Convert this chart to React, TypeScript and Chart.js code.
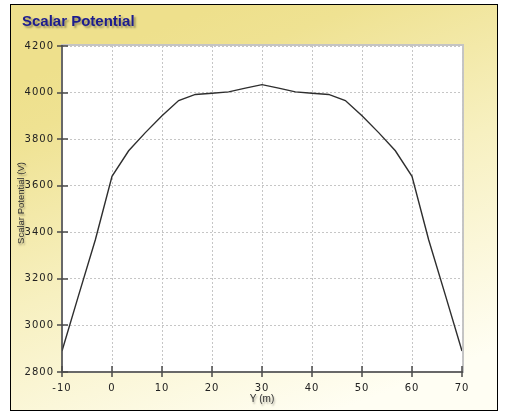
import React, { useEffect, useRef } from "react";
import { Chart, registerables } from "chart.js";

Chart.register(...registerables);

// Y (m) positions along the profile
const yPositions = [
  -10, -6.67, -3.33, 0, 3.33, 6.67, 10, 13.33, 16.67, 20, 23.33, 26.67, 30,
  33.33, 36.67, 40, 43.33, 46.67, 50, 53.33, 56.67, 60, 63.33, 66.67, 70,
];
// Scalar potential (V)
const scalarPotential = [
  2890, 3130, 3368, 3640, 3750, 3828, 3900, 3966, 3992, 3997, 4003, 4019, 4034,
  4019, 4003, 3997, 3992, 3966, 3900, 3828, 3750, 3640, 3368, 3130, 2890,
];
const xTickValues = [-10, 0, 10, 20, 30, 40, 50, 60, 70];
const yTickValues = [2800, 3000, 3200, 3400, 3600, 3800, 4000, 4200];

const chartTitle = "Scalar Potential";
const xAxisTitle = "Y (m)";
const yAxisTitle = "Scalar Potential (V)";

const framePlugin = {
  id: "frame",
  beforeDraw(chart: any) {
    const { ctx, chartArea: a, width, height } = chart;
    ctx.save();
    ctx.letterSpacing = "0px";
    ctx.fillStyle = "#ffffff";
    ctx.fillRect(0, 0, width, height);
    const g = ctx.createLinearGradient(180, 20, 330, 414);
    g.addColorStop(0, "#EEE08C");
    g.addColorStop(0.12, "#EFE292");
    g.addColorStop(0.5, "#F7F0C0");
    g.addColorStop(1, "#FFFEF3");
    ctx.fillStyle = g;
    ctx.fillRect(10, 4, 488, 407);
    ctx.strokeStyle = "#000000";
    ctx.lineWidth = 1;
    ctx.strokeRect(10.5, 4.5, 487, 406);
    // plot area
    ctx.fillStyle = "#ffffff";
    ctx.fillRect(a.left, a.top, a.right - a.left, a.bottom - a.top);
    ctx.strokeStyle = "#c4c4c4";
    ctx.lineWidth = 2;
    ctx.strokeRect(a.left, a.top - 1, a.right - a.left + 1, a.bottom - a.top + 1);
    // title
    ctx.font = 'bold 15px "Liberation Sans", Arial, sans-serif';
    ctx.shadowColor = "rgba(0,0,0,0.35)";
    ctx.shadowOffsetX = 2;
    ctx.shadowOffsetY = 2;
    ctx.shadowBlur = 2;
    ctx.fillStyle = "#1C1C8E";
    ctx.textAlign = "left";
    ctx.textBaseline = "alphabetic";
    ctx.fillText(chartTitle, 22, 26);
    ctx.restore();
    ctx.letterSpacing = "1px";
  },
  afterDraw(chart: any) {
    const { ctx, chartArea: a } = chart;
    const xs = chart.scales.x;
    const ys = chart.scales.y;
    ctx.save();
    ctx.letterSpacing = "0px";
    ctx.strokeStyle = "#4a4a4a";
    ctx.lineWidth = 1.5;
    ctx.beginPath();
    ctx.moveTo(a.left, a.top - 1);
    ctx.lineTo(a.left, a.bottom);
    ctx.lineTo(a.right + 1, a.bottom);
    ctx.stroke();
    ctx.lineWidth = 1.5;
    ctx.beginPath();
    for (const v of yTickValues) {
      const p = Math.round(ys.getPixelForValue(v));
      ctx.moveTo(a.left - 5, p);
      ctx.lineTo(a.left + 6, p);
    }
    for (const v of xTickValues) {
      const p = Math.round(xs.getPixelForValue(v));
      ctx.moveTo(p, a.bottom - 6);
      ctx.lineTo(p, a.bottom + 5);
    }
    ctx.stroke();
    // axis titles
    ctx.shadowColor = "rgba(0,0,0,0.35)";
    ctx.shadowOffsetX = 1;
    ctx.shadowOffsetY = 2;
    ctx.shadowBlur = 2;
    ctx.fillStyle = "#333333";
    ctx.textAlign = "center";
    ctx.textBaseline = "middle";
    ctx.font = '10px "Liberation Sans", Arial, sans-serif';
    ctx.fillText(xAxisTitle, (a.left + a.right) / 2, 399);
    ctx.translate(21, 203);
    ctx.rotate(-Math.PI / 2);
    ctx.font = '9.5px "Liberation Sans", Arial, sans-serif';
    ctx.fillText(yAxisTitle, 0, 0);
    ctx.restore();
  },
};

export default function App() {
  const ref = useRef<HTMLCanvasElement | null>(null);
  useEffect(() => {
    if (!ref.current) return;
    const chart = new Chart(ref.current, {
      type: "line",
      data: {
        datasets: [
          {
            data: yPositions.map((x, i) => ({ x, y: scalarPotential[i] })),
            borderColor: "#2e2e2e",
            borderWidth: 1.4,
            pointRadius: 0,
            tension: 0,
            fill: false,
          },
        ],
      },
      options: {
        animation: false,
        responsive: false,
        layout: { padding: { left: 0, top: 46, right: 44, bottom: 0 } },
        plugins: { legend: { display: false }, tooltip: { enabled: false }, title: { display: false } },
        scales: {
          x: {
            type: "linear",
            min: -10,
            max: 70,
            afterBuildTicks: (s: any) => {
              s.ticks = xTickValues.map((v) => ({ value: v }));
            },
            afterFit: (s: any) => {
              s.height = 42;
            },
            grid: { color: "#c6c6c6", lineWidth: 1, drawTicks: false },
            border: { display: false, dash: [2, 2] },
            ticks: {
              padding: 10,
              color: "#222222",
              font: { family: '"DejaVu Sans", Verdana, sans-serif', size: 10 },
              maxRotation: 0,
              callback: (v: any) => String(v),
            },
          },
          y: {
            type: "linear",
            min: 2800,
            max: 4200,
            afterBuildTicks: (s: any) => {
              s.ticks = yTickValues.map((v) => ({ value: v }));
            },
            afterFit: (s: any) => {
              s.width = 62;
            },
            grid: { color: "#c6c6c6", lineWidth: 1, drawTicks: false },
            border: { display: false, dash: [2, 2] },
            ticks: {
              padding: 8,
              color: "#222222",
              font: { family: '"DejaVu Sans", Verdana, sans-serif', size: 10 },
              callback: (v: any) => String(v),
            },
          },
        },
      },
      plugins: [framePlugin],
    });
    return () => chart.destroy();
  }, []);
  return (
    <div style={{ position: "fixed", left: 0, top: 0, width: 506, height: 414 }}>
      <canvas ref={ref} width={506} height={414} style={{ display: "block" }} />
    </div>
  );
}
